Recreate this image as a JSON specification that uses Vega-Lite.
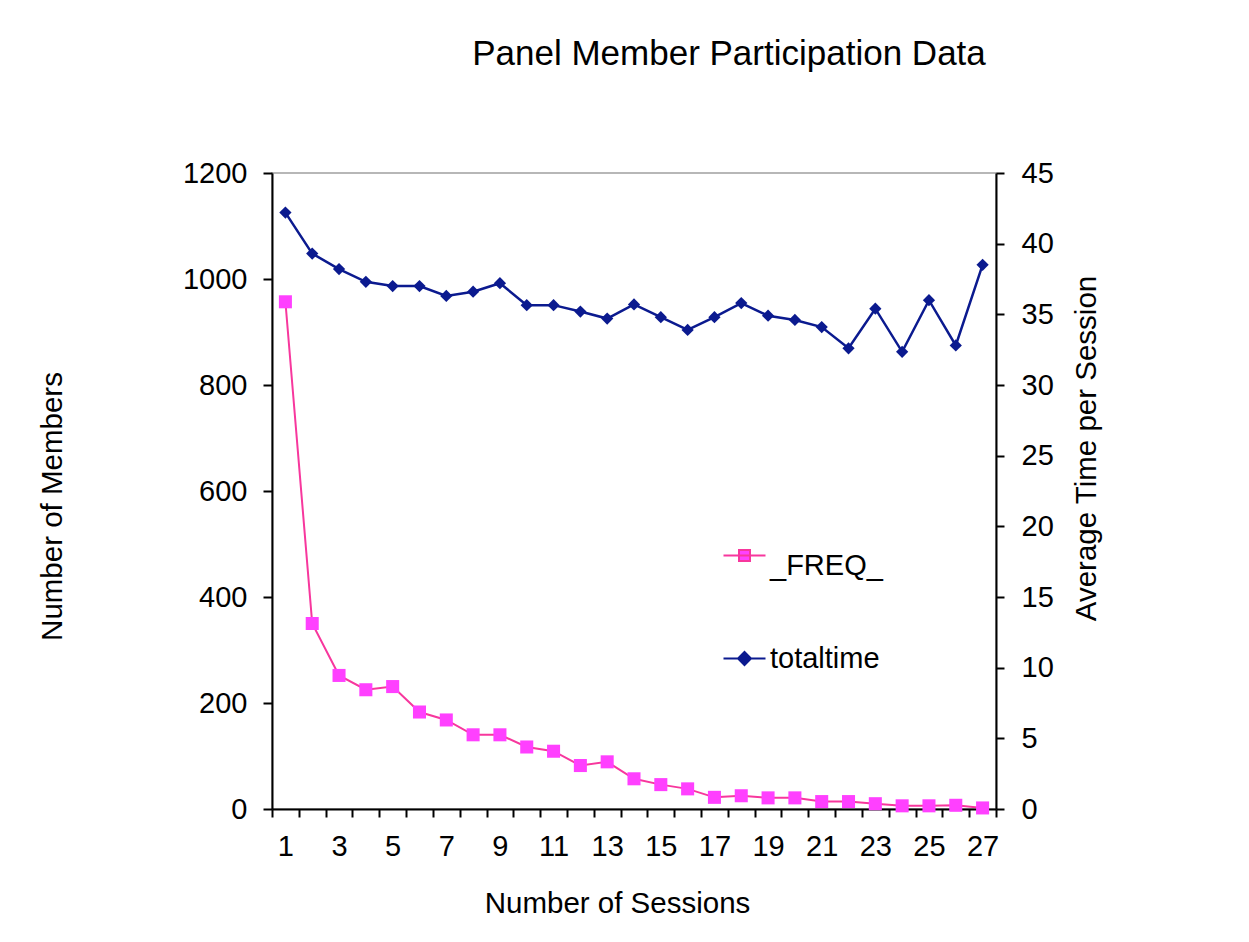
{
  "$schema": "https://vega.github.io/schema/vega-lite/v6.json",
  "width": 724,
  "height": 636,
  "autosize": {"type": "none"},
  "padding": {"left": 272, "top": 173, "right": 253, "bottom": 133},
  "background": "white",
  "config": {
    "font": "Liberation Sans",
    "view": {"stroke": "#a0a0a0", "strokeWidth": 1.5},
    "axis": {
      "domainColor": "black",
      "domainWidth": 2,
      "tickColor": "black",
      "tickWidth": 2,
      "labelColor": "black",
      "titleColor": "black",
      "labelFont": "Liberation Sans",
      "titleFont": "Liberation Sans",
      "labelFontSize": 29,
      "titleFontSize": 29.5,
      "titleFontWeight": "normal",
      "grid": false
    }
  },
  "title": {
    "text": "Panel Member Participation Data",
    "font": "Liberation Sans",
    "fontSize": 35,
    "fontWeight": "normal",
    "color": "black",
    "anchor": "middle",
    "baseline": "alphabetic",
    "dx": 95,
    "dy": -59,
    "offset": 0
  },
  "data": {
    "values": [
      {"s": 1, "series": "_FREQ_", "v": 957},
      {"s": 2, "series": "_FREQ_", "v": 350},
      {"s": 3, "series": "_FREQ_", "v": 252},
      {"s": 4, "series": "_FREQ_", "v": 225},
      {"s": 5, "series": "_FREQ_", "v": 231},
      {"s": 6, "series": "_FREQ_", "v": 183},
      {"s": 7, "series": "_FREQ_", "v": 168},
      {"s": 8, "series": "_FREQ_", "v": 140},
      {"s": 9, "series": "_FREQ_", "v": 140},
      {"s": 10, "series": "_FREQ_", "v": 117},
      {"s": 11, "series": "_FREQ_", "v": 109},
      {"s": 12, "series": "_FREQ_", "v": 82},
      {"s": 13, "series": "_FREQ_", "v": 89},
      {"s": 14, "series": "_FREQ_", "v": 57},
      {"s": 15, "series": "_FREQ_", "v": 46},
      {"s": 16, "series": "_FREQ_", "v": 38},
      {"s": 17, "series": "_FREQ_", "v": 22},
      {"s": 18, "series": "_FREQ_", "v": 25},
      {"s": 19, "series": "_FREQ_", "v": 21},
      {"s": 20, "series": "_FREQ_", "v": 21},
      {"s": 21, "series": "_FREQ_", "v": 14},
      {"s": 22, "series": "_FREQ_", "v": 14},
      {"s": 23, "series": "_FREQ_", "v": 10},
      {"s": 24, "series": "_FREQ_", "v": 6},
      {"s": 25, "series": "_FREQ_", "v": 6},
      {"s": 26, "series": "_FREQ_", "v": 7},
      {"s": 27, "series": "_FREQ_", "v": 2},
      {"s": 1, "series": "totaltime", "v": 42.2},
      {"s": 2, "series": "totaltime", "v": 39.3},
      {"s": 3, "series": "totaltime", "v": 38.2},
      {"s": 4, "series": "totaltime", "v": 37.3},
      {"s": 5, "series": "totaltime", "v": 37.0},
      {"s": 6, "series": "totaltime", "v": 37.0},
      {"s": 7, "series": "totaltime", "v": 36.3},
      {"s": 8, "series": "totaltime", "v": 36.6},
      {"s": 9, "series": "totaltime", "v": 37.2},
      {"s": 10, "series": "totaltime", "v": 35.65},
      {"s": 11, "series": "totaltime", "v": 35.65},
      {"s": 12, "series": "totaltime", "v": 35.2},
      {"s": 13, "series": "totaltime", "v": 34.7},
      {"s": 14, "series": "totaltime", "v": 35.7},
      {"s": 15, "series": "totaltime", "v": 34.8},
      {"s": 16, "series": "totaltime", "v": 33.9},
      {"s": 17, "series": "totaltime", "v": 34.8},
      {"s": 18, "series": "totaltime", "v": 35.8},
      {"s": 19, "series": "totaltime", "v": 34.9},
      {"s": 20, "series": "totaltime", "v": 34.6},
      {"s": 21, "series": "totaltime", "v": 34.1},
      {"s": 22, "series": "totaltime", "v": 32.6},
      {"s": 23, "series": "totaltime", "v": 35.4},
      {"s": 24, "series": "totaltime", "v": 32.35},
      {"s": 25, "series": "totaltime", "v": 36.0},
      {"s": 26, "series": "totaltime", "v": 32.8},
      {"s": 27, "series": "totaltime", "v": 38.5}
    ]
  },
  "encoding": {
    "x": {
      "field": "s",
      "type": "ordinal",
      "scale": {"type": "band", "paddingInner": 0, "paddingOuter": 0},
      "axis": {
        "title": "Number of Sessions",
        "tickBand": "extent",
        "labelExpr": "datum.value % 2 == 1 ? datum.label : ''",
        "labelAngle": 0,
        "labelOverlap": false,
        "tickSize": 8,
        "labelPadding": 15,
        "titleX": 345,
        "titleY": 103,
        "titleBaseline": "alphabetic",
        "titleAlign": "center"
      }
    }
  },
  "layer": [
    {
      "transform": [{"filter": "datum.series == '_FREQ_'"}],
      "encoding": {
        "y": {
          "field": "v",
          "type": "quantitative",
          "scale": {"domain": [0, 1200], "nice": false, "zero": true},
          "axis": {
            "orient": "left",
            "title": "Number of Members",
            "values": [0, 200, 400, 600, 800, 1000, 1200],
            "format": "d",
            "tickSize": 9,
            "labelPadding": 16,
            "titleAngle": 270,
            "titleX": -211,
            "titleY": 333,
            "titleBaseline": "alphabetic",
            "titleAlign": "center"
          }
        }
      },
      "layer": [
        {
          "mark": {"type": "line", "strokeWidth": 2},
          "encoding": {
            "color": {
              "field": "series",
              "type": "nominal",
              "scale": {"domain": ["_FREQ_", "totaltime"], "range": ["#f7379d", "#0b1a8f"]},
              "legend": {
                "title": null,
                "orient": "none",
                "legendX": 458,
                "legendY": 378,
                "padding": 0,
                "symbolSize": 100,
                "symbolType": {"expr": "datum.value == '_FREQ_' ? 'M-4.2,-2H4.2M-1.1,-3.1H1.1V-0.9H-1.1Z' : 'M-4.2,0H4.2M0,-1.3L1.3,0L0,1.3L-1.3,0Z'"},
                "symbolFillColor": {"expr": "datum.value == '_FREQ_' ? '#ff40ff' : '#0b1a8f'"},
                "symbolStrokeWidth": 2,
                "labelFont": "Liberation Sans",
                "labelFontSize": 29,
                "labelColor": "black",
                "labelOffset": 11,
                "rowPadding": 63
              }
            }
          }
        },
        {
          "mark": {"type": "square", "filled": true, "color": "#ff40ff", "size": 170, "opacity": 1},
          "encoding": {}
        }
      ]
    },
    {
      "transform": [{"filter": "datum.series == 'totaltime'"}],
      "encoding": {
        "y": {
          "field": "v",
          "type": "quantitative",
          "scale": {"domain": [0, 45], "nice": false, "zero": true},
          "axis": {
            "orient": "right",
            "title": "Average Time per Session",
            "values": [0, 5, 10, 15, 20, 25, 30, 35, 40, 45],
            "tickSize": 8,
            "labelPadding": 17,
            "titleAngle": 270,
            "titleX": 99,
            "titleY": 275,
            "titleBaseline": "alphabetic",
            "titleAlign": "center"
          }
        }
      },
      "layer": [
        {
          "mark": {"type": "line", "strokeWidth": 2.5},
          "encoding": {
            "color": {
              "field": "series",
              "type": "nominal",
              "scale": {"domain": ["_FREQ_", "totaltime"], "range": ["#f7379d", "#0b1a8f"]}
            }
          }
        },
        {
          "mark": {"type": "point", "shape": "diamond", "filled": true, "color": "#0b1a8f", "size": 150, "opacity": 1},
          "encoding": {}
        }
      ]
    }
  ],
  "resolve": {"scale": {"y": "independent"}}
}
